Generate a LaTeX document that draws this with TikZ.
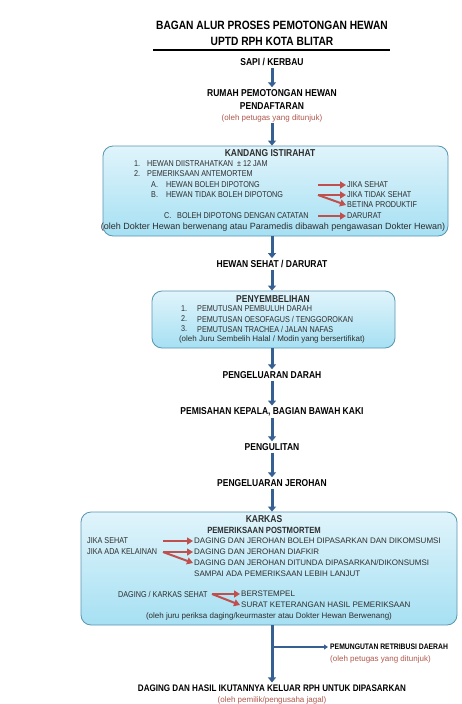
\documentclass[tikz,border=0pt]{standalone}
\usepackage{fontspec}
\setmainfont{Liberation Sans}[FakeStretch=0.85]
\newfontfamily\notefont{Liberation Sans}
\usetikzlibrary{arrows.meta}

\definecolor{flowblue}{RGB}{55,96,146}
\definecolor{markred}{RGB}{192,80,77}
\definecolor{panelline}{RGB}{88,150,176}
\definecolor{paneltop}{RGB}{224,244,251}
\definecolor{panelbot}{RGB}{166,224,243}
\definecolor{notered}{RGB}{176,88,76}
\definecolor{inktext}{RGB}{45,45,45}

\tikzset{
  flow/.style={draw=flowblue, line width=3pt, -{Triangle[length=5pt,width=8pt]}},
  branch/.style={draw=flowblue, line width=1.4pt, -{Triangle[length=4pt,width=5pt]}},
  redarr/.style={draw=markred, line width=2pt, -{Triangle[length=6pt,width=7pt]}},
  panel/.style={draw=panelline, line width=0.8pt, rounded corners=10pt, top color=paneltop, bottom color=panelbot},
  heading/.style={font=\bfseries\fontsize{12}{14}\selectfont, inner sep=1pt},
  stage/.style={font=\bfseries\fontsize{10}{12}\selectfont, inner sep=2pt},
  boxhead/.style={font=\bfseries\fontsize{10}{11}\selectfont, text=inktext, inner sep=1pt},
  item/.style={font=\fontsize{8.5}{10}\selectfont, text=inktext, inner sep=1pt, anchor=west},
  wideitem/.style={item, font=\notefont\fontsize{8}{10}\selectfont},
  note/.style={font=\notefont\fontsize{8}{10}\selectfont, text=notered, inner sep=1pt},
  boxnote/.style={font=\notefont\fontsize{8}{10}\selectfont, text=inktext, inner sep=1pt},
}

\begin{document}
\begin{tikzpicture}[x=1pt,y=-1pt]
\useasboundingbox[fill=white] (0,0) rectangle (461,704);

% title
\node[heading] (ttla) at (272,25) {BAGAN ALUR PROSES PEMOTONGAN HEWAN};
\node[heading] (ttlb) at (272,41) {UPTD RPH KOTA BLITAR};
\draw[line width=2pt] (153,50) -- (390,50);

% intake
\node[stage] (sapi) at (272,62) {SAPI / KERBAU};
\node[stage] (rumah) at (272,93) {RUMAH PEMOTONGAN HEWAN};
\node[stage] (daftar) at (272,106) {PENDAFTARAN};
\node[note] (daftarnote) at (272,118) {(oleh petugas yang ditunjuk)};

% kandang istirahat
\node[panel, minimum width=345pt, minimum height=90pt] (kandang) at (275.5,191) {};
\node[boxhead] (kandangttl) at (270,153) {KANDANG ISTIRAHAT};
\node[item] (ka1) at (133,164) {1.};
\node[item] (ka1t) at (146,164) {HEWAN DIISTRAHATKAN \ ± 12 JAM};
\node[item] (ka2) at (133,174) {2.};
\node[item] (ka2t) at (146,174) {PEMERIKSAAN ANTEMORTEM};
\node[item] (kaa) at (150,185) {A.};
\node[item] (kaat) at (165,185) {HEWAN BOLEH DIPOTONG};
\node[item] (kab) at (150,195) {B.};
\node[item] (kabt) at (165,195) {HEWAN TIDAK BOLEH DIPOTONG};
\node[item] (kac) at (163,216) {C.};
\node[item] (kact) at (176,216) {BOLEH DIPOTONG DENGAN CATATAN};
\node[item] (sehat) at (346,185) {JIKA SEHAT};
\node[item] (tdksehat) at (346,195) {JIKA TIDAK SEHAT};
\node[item] (betina) at (346,205) {BETINA PRODUKTIF};
\node[item] (darurat) at (346,216) {DARURAT};
\node[boxnote, font=\notefont\fontsize{9}{10}\selectfont] (kandangnote) at (273,227) {(oleh Dokter Hewan berwenang atau Paramedis dibawah pengawasan Dokter Hewan)};
\coordinate (pa) at (318,185);
\coordinate (pb) at (318,195);
\coordinate (pc) at (318,216);
\draw[redarr] (pa) -- (sehat.west);
\draw[redarr] (pb) -- (tdksehat.west);
\draw[redarr] (pb) -- (betina.west);
\draw[redarr] (pc) -- (darurat.west);

\node[stage] (layak) at (272,264) {HEWAN SEHAT / DARURAT};

% penyembelihan
\node[panel, minimum width=243pt, minimum height=57pt] (sembelih) at (273.5,319.5) {};
\node[boxhead] (sembelihttl) at (273,299) {PENYEMBELIHAN};
\node[item] (sb1) at (180,309) {1.};
\node[item] (sb1t) at (196,309) {PEMUTUSAN PEMBULUH DARAH};
\node[item] (sb2) at (180,319) {2.};
\node[item] (sb2t) at (196,319) {PEMUTUSAN OESOFAGUS / TENGGOROKAN};
\node[item] (sb3) at (180,329) {3.};
\node[item] (sb3t) at (196,329) {PEMUTUSAN TRACHEA / JALAN NAFAS};
\node[boxnote] (sembelihnote) at (272,339) {(oleh Juru Sembelih Halal / Modin yang bersertifikat)};

\node[stage] (darah) at (272,375) {PENGELUARAN DARAH};
\node[stage] (kepala) at (272,412) {PEMISAHAN KEPALA, BAGIAN BAWAH KAKI};
\node[stage] (kulit) at (272,447) {PENGULITAN};
\node[stage] (jerohan) at (272,483) {PENGELUARAN JEROHAN};

% karkas
\node[panel, minimum width=376pt, minimum height=113pt] (karkas) at (269,568.5) {};
\node[boxhead] (karkasttl) at (264,519) {KARKAS};
\node[boxhead, font=\bfseries\fontsize{9}{10}\selectfont] (postmortem) at (264,530) {PEMERIKSAAN POSTMORTEM};
\node[item] (ksehat) at (86,541) {JIKA SEHAT};
\node[item] (kelainan) at (86,552) {JIKA ADA KELAINAN};
\node[wideitem] (boleh) at (193,541) {DAGING DAN JEROHAN BOLEH DIPASARKAN DAN DIKOMSUMSI};
\node[wideitem] (afkir) at (193,552) {DAGING DAN JEROHAN DIAFKIR};
\node[wideitem] (tunda) at (193,563) {DAGING DAN JEROHAN DITUNDA DIPASARKAN/DIKONSUMSI};
\node[wideitem] (lanjut) at (193,574) {SAMPAI ADA PEMERIKSAAN LEBIH LANJUT};
\node[item] (dsehat) at (117,594) {DAGING / KARKAS SEHAT};
\node[wideitem] (stempel) at (240,594) {BERSTEMPEL};
\node[wideitem] (surat) at (240,605) {SURAT KETERANGAN HASIL PEMERIKSAAN};
\node[boxnote] (karkasnote) at (269,616) {(oleh juru periksa daging/keurmaster atau Dokter Hewan Berwenang)};
\coordinate (ps) at (163,541);
\coordinate (pk) at (163,552);
\coordinate (pd) at (212,594);
\draw[redarr] (ps) -- (boleh.west);
\draw[redarr] (pk) -- (afkir.west);
\draw[redarr] (pk) -- (tunda.west);
\draw[redarr] (pd) -- (stempel.west);
\draw[redarr] (pd) -- (surat.west);

% exit
\node[stage, font=\bfseries\fontsize{8}{10}\selectfont, anchor=west] (pungut) at (328,647) {PEMUNGUTAN RETRIBUSI DAERAH};
\node[note, anchor=west] (pungutnote) at (329,659) {(oleh petugas yang ditunjuk)};
\node[stage, font=\bfseries\fontsize{9.5}{11}\selectfont] (hasil) at (272,688) {DAGING DAN HASIL IKUTANNYA KELUAR RPH UNTUK DIPASARKAN};
\node[note] (hasilnote) at (272,700) {(oleh pemilik/pengusaha jagal)};

% flow arrows
\draw[flow] (sapi) -- (rumah);
\draw[flow] (daftarnote.south) -- (daftarnote.south |- kandang.north);
\draw[flow] (layak.north |- kandang.south) -- (layak);
\draw[flow] (layak) -- (layak.south |- sembelih.north);
\draw[flow] (darah.north |- sembelih.south) -- (darah);
\draw[flow] (darah) -- (kepala);
\draw[flow] (kepala) -- (kulit);
\draw[flow] (kulit) -- (jerohan);
\draw[flow] (jerohan) -- (jerohan.south |- karkas.north);
\draw[flow] (hasil.north |- karkas.south) -- (hasil);
\coordinate (fork) at (hasil.north |- pungut.west);
\draw[branch] (fork) -- (pungut.west);
\end{tikzpicture}
\end{document}
